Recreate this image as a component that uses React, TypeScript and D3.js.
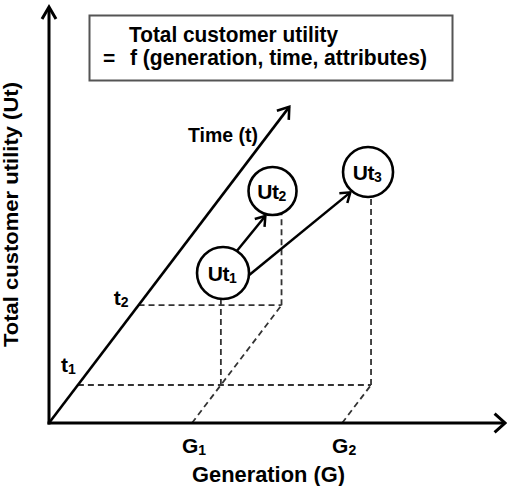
import React from "react";
import * as d3 from "d3";

// ---- Data ----
const generations = [
  { name: "G", sub: "1", value: 1 },
  { name: "G", sub: "2", value: 2.05 },
];
const times = [
  { name: "t", sub: "1", value: 1 },
  { name: "t", sub: "2", value: 3.1 },
];
const utilityPoints = [
  { name: "Ut", sub: "1", g: 1.015, t: 1, u: 1.12, r: 26, dropG: 1, dropT: 1 },
  { name: "Ut", sub: "2", g: 0.937, t: 3.1, u: 1.142, r: 24, dropG: 1, dropT: 3.1 },
  { name: "Ut", sub: "3", g: 2.029, t: 1, u: 2.13, r: 25, dropG: 2.05, dropT: 1 },
];
const transitions = [
  { from: 0, to: 1, a0: -58, a1: 106 },
  { from: 0, to: 2, a0: 5, a1: 131 },
];
const timeAxisMax = 8.32;
const titleLines = ["Total customer utility", "f (generation, time, attributes)"];
const xAxisTitle = "Generation (G)";
const yAxisTitle = "Total customer utility (Ut)";
const timeAxisTitle = "Time (t)";

const W = 507;
const H = 486;
const FONT = "'Liberation Sans', Arial, Helvetica, sans-serif";

export default function App() {
  const ox = 49;
  const oy = 423;
  const gScale = d3.scaleLinear().domain([0, 1]).range([0, 143]);
  const tDepth = d3.scaleLinear().domain([0, 1]).range([0, 38]);
  const slope = 0.76;
  const uScale = d3.scaleLinear().domain([0, 1]).range([0, 100]);

  const proj = (g: number, t: number, u: number): [number, number] => [
    ox + gScale(g) + tDepth(t) * slope,
    oy - tDepth(t) - uScale(u),
  ];
  const line = d3.line<[number, number]>();

  const chevron = (tip: [number, number], angle: number, len = 13, spread = 30) => {
    const a1 = ((angle + 180 - spread) * Math.PI) / 180;
    const a2 = ((angle + 180 + spread) * Math.PI) / 180;
    return line([
      [tip[0] + len * Math.cos(a1), tip[1] + len * Math.sin(a1)],
      tip,
      [tip[0] + len * Math.cos(a2), tip[1] + len * Math.sin(a2)],
    ]);
  };

  const dash = { stroke: "#333", strokeWidth: 1.8, strokeDasharray: "6,4", fill: "none" };

  // dashed guides
  const guides: [number, number][][] = [];
  times.forEach((tm) => {
    const gMax = d3.max(utilityPoints.filter((p) => p.dropT === tm.value), (p) => p.dropG) ?? 0;
    guides.push([proj(0, tm.value, 0), proj(gMax, tm.value, 0)]);
  });
  generations.forEach((gn) => {
    const tMax = d3.max(utilityPoints.filter((p) => p.dropG === gn.value), (p) => p.dropT) ?? 0;
    guides.push([proj(gn.value, 0, 0), proj(gn.value, tMax, 0)]);
  });
  utilityPoints.forEach((p) => {
    const base = proj(p.dropG, p.dropT, 0);
    const c = proj(p.g, p.t, p.u);
    const dx = base[0] - c[0];
    const top = c[1] + Math.sqrt(Math.max(0, p.r * p.r - dx * dx));
    guides.push([base, [base[0], top]]);
  });

  const timeTip = proj(0, timeAxisMax, 0);
  const timeAngle = (Math.atan2(timeTip[1] - oy, timeTip[0] - ox) * 180) / Math.PI;

  return (
    <svg width={W} height={H} style={{ position: "absolute", left: 0, top: 0, background: "#fff" }}>
      <rect x={0} y={0} width={W} height={H} fill="#fff" />
      {guides.map((seg, i) => (
        <path key={"g" + i} d={line(seg) ?? ""} {...dash} />
      ))}

      {/* axes */}
      <path d={line([[ox, oy + 1.5], [ox, 8]]) ?? ""} stroke="#000" strokeWidth={3} fill="none" />
      <path d={chevron([ox, 7], -90, 14, 30) ?? ""} stroke="#000" strokeWidth={3} fill="none" />
      <path d={line([[ox - 1.5, oy], [504, oy]]) ?? ""} stroke="#000" strokeWidth={3} fill="none" />
      <path d={chevron([505, oy], 0, 14, 42) ?? ""} stroke="#000" strokeWidth={3} fill="none" />
      <path d={line([[ox, oy], timeTip]) ?? ""} stroke="#000" strokeWidth={2.6} fill="none" />
      <path d={chevron(timeTip, timeAngle, 13, 35) ?? ""} stroke="#000" strokeWidth={2.6} fill="none" />

      {/* transitions */}
      {transitions.map((tr, i) => {
        const a = utilityPoints[tr.from];
        const b = utilityPoints[tr.to];
        const ca = proj(a.g, a.t, a.u);
        const cb = proj(b.g, b.t, b.u);
        const s: [number, number] = [
          ca[0] + a.r * Math.cos((tr.a0 * Math.PI) / 180),
          ca[1] + a.r * Math.sin((tr.a0 * Math.PI) / 180),
        ];
        const e: [number, number] = [
          cb[0] + (b.r + 2) * Math.cos((tr.a1 * Math.PI) / 180),
          cb[1] + (b.r + 2) * Math.sin((tr.a1 * Math.PI) / 180),
        ];
        const ang = (Math.atan2(e[1] - s[1], e[0] - s[0]) * 180) / Math.PI;
        return (
          <g key={"t" + i}>
            <path d={line([s, e]) ?? ""} stroke="#000" strokeWidth={2.5} fill="none" />
            <path d={chevron(e, ang, 11, 35) ?? ""} stroke="#000" strokeWidth={2.5} fill="none" />
          </g>
        );
      })}

      {/* utility circles */}
      {utilityPoints.map((p, i) => {
        const c = proj(p.g, p.t, p.u);
        return (
          <g key={"u" + i}>
            <circle cx={c[0]} cy={c[1]} r={p.r} fill="#fff" stroke="#000" strokeWidth={2.6} />
            <text x={c[0] - 1} y={c[1] + 8} textAnchor="middle" fontFamily={FONT} fontWeight="bold" fontSize={21} letterSpacing={-0.5}>
              {p.name}
              <tspan fontSize={14} dy={2}>{p.sub}</tspan>
            </text>
          </g>
        );
      })}

      {/* generation labels */}
      {generations.map((gn, i) => {
        const [x] = proj(gn.value, 0, 0);
        return (
          <text key={"gl" + i} x={x + 2} y={453} textAnchor="middle" fontFamily={FONT} fontWeight="bold" fontSize={21}>
            {gn.name}
            <tspan fontSize={14} dy={2}>{gn.sub}</tspan>
          </text>
        );
      })}

      {/* time labels */}
      {times.map((tm, i) => {
        const [x, y] = proj(0, tm.value, 0);
        return (
          <text key={"tl" + i} x={x - 2 - (i === 1 ? 8 : 0)} y={y - 13 + (i === 1 ? 13 : 0)} textAnchor="end" fontFamily={FONT} fontWeight="bold" fontSize={21}>
            {tm.name}
            <tspan fontSize={14} dy={2}>{tm.sub}</tspan>
          </text>
        );
      })}

      {/* titles */}
      <text x={188} y={142} fontFamily={FONT} fontWeight="bold" fontSize={21} textLength={70} lengthAdjust="spacingAndGlyphs">
        {timeAxisTitle}
      </text>
      <text x={192} y={482} fontFamily={FONT} fontWeight="bold" fontSize={22} textLength={153} lengthAdjust="spacingAndGlyphs">
        {xAxisTitle}
      </text>
      <text
        transform="translate(18,214.5) rotate(-90)"
        textAnchor="middle"
        fontFamily={FONT}
        fontWeight="bold"
        fontSize={21}
        textLength={265}
        lengthAdjust="spacingAndGlyphs"
      >
        {yAxisTitle}
      </text>

      {/* formula box */}
      <rect x={89.5} y={15.5} width={363} height={65} fill="#fff" stroke="#555" strokeWidth={2} />
      <text x={129} y={42} fontFamily={FONT} fontWeight="bold" fontSize={22} textLength={209} lengthAdjust="spacingAndGlyphs">
        {titleLines[0]}
      </text>
      <text x={103} y={65} fontFamily={FONT} fontWeight="bold" fontSize={21}>
        =
      </text>
      <text x={130} y={65} fontFamily={FONT} fontWeight="bold" fontSize={22} textLength={297} lengthAdjust="spacingAndGlyphs">
        {titleLines[1]}
      </text>
    </svg>
  );
}
